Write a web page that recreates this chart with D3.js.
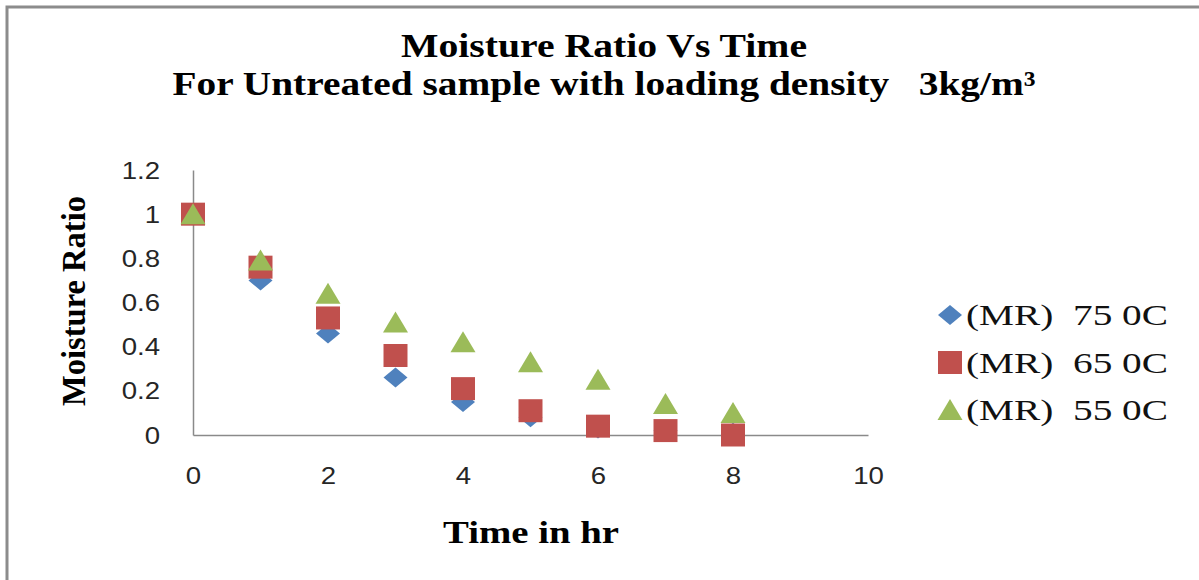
<!DOCTYPE html>
<html><head><meta charset="utf-8">
<script src="https://cdn.jsdelivr.net/npm/d3@7"></script>
<style>body{margin:0;background:#fff;} svg{display:block;}</style>
</head><body>
<svg id="c" width="1199" height="580"></svg>
<script>
const times = [0,1,2,3,4,5,6,7,8];
const mr75 = [1,0.70,0.46,0.26,0.15,0.08,0.03,0.02,0.01];
const mr65 = [1,0.76,0.53,0.36,0.21,0.11,0.04,0.02,0.00];
const mr55 = [1,0.79,0.64,0.51,0.42,0.33,0.25,0.14,0.10];
const seriesNames = ["(MR)  75 0C","(MR)  65 0C","(MR)  55 0C"];
const seriesColors = ["#4F81BD","#C0504D","#9BBB59"];
const xTicks = [0,2,4,6,8,10];
const yTicks = [0,0.2,0.4,0.6,0.8,1,1.2];

const svg = d3.select("#c");
svg.append("rect").attr("x",7).attr("y",7).attr("width",1250).attr("height",640)
  .attr("fill","#fff").attr("stroke","#8c8c8c").attr("stroke-width",3);

const x = d3.scaleLinear().domain([0,10]).range([193,868]);
const y = d3.scaleLinear().domain([0,1.2]).range([435,170]);
const sx = 1.2;

// axes
const xa = svg.append("g").attr("transform","translate(0,435)")
  .call(d3.axisBottom(x).tickValues(xTicks).tickSize(0).tickPadding(34).tickFormat(d3.format("d")));
const ya = svg.append("g").attr("transform","translate(193,0)")
  .call(d3.axisLeft(y).tickValues(yTicks).tickSize(0).tickPadding(34).tickFormat(d=>String(d)));
[xa,ya].forEach(a=>{
  a.select(".domain").attr("stroke","#8a8a8a").attr("stroke-width",1.5);
  a.selectAll("text").attr("font-family","'Liberation Sans', Arial, sans-serif")
   .attr("font-size",23).attr("fill","#262626");
});
xa.selectAll("text").attr("y",null).attr("dy",null)
  .attr("transform",`translate(0,43) scale(${sx},1)`).attr("dominant-baseline","middle");
ya.selectAll("text").attr("x",null).attr("dy","0.35em")
  .attr("transform",`translate(-33,0) scale(${sx},1)`);

// markers
function shape(i, cx, cy){
  const w=12, h=10;
  if(i===0) return `M${cx},${cy-h}L${cx+w},${cy}L${cx},${cy+h}L${cx-w},${cy}Z`;
  if(i===1) return `M${cx-12},${cy-11.5}h24v23h-24Z`;
  return `M${cx},${cy-11}L${cx+12.5},${cy+10}L${cx-12.5},${cy+10}Z`;
}
const data = [mr75, mr65, mr55];
data.forEach((vals,i)=>{
  svg.append("g").selectAll("path").data(vals).join("path")
    .attr("d",(d,j)=>shape(i, x(times[j]), y(d)))
    .attr("fill",seriesColors[i]);
});

// legend
const leg = svg.append("g");
seriesNames.forEach((n,i)=>{
  const cy = 315 + i*47.5;
  leg.append("path").attr("d",shape(i,950,cy)).attr("fill",seriesColors[i]);
  leg.append("text").attr("x",966).attr("y",cy).attr("dy","0.35em")
    .attr("font-family","'Liberation Serif', 'Times New Roman', serif").attr("font-size",29)
    .attr("fill","#111").attr("xml:space","preserve")
    .attr("textLength",202).attr("lengthAdjust","spacingAndGlyphs").text(n);
});

// titles
const serif = "'Liberation Serif', 'Times New Roman', serif";
svg.append("text").attr("x",604).attr("y",57).attr("text-anchor","middle")
  .attr("font-family",serif).attr("font-weight","bold").attr("font-size",34)
  .attr("textLength",406).attr("lengthAdjust","spacingAndGlyphs").text("Moisture Ratio Vs Time");
svg.append("text").attr("x",604).attr("y",95).attr("text-anchor","middle")
  .attr("font-family",serif).attr("font-weight","bold").attr("font-size",34)
  .attr("textLength",863).attr("lengthAdjust","spacingAndGlyphs").attr("xml:space","preserve")
  .text("For Untreated sample with loading density   3kg/m³");
svg.append("text").attr("x",531).attr("y",543).attr("text-anchor","middle")
  .attr("font-family",serif).attr("font-weight","bold").attr("font-size",31)
  .attr("textLength",176).attr("lengthAdjust","spacingAndGlyphs").text("Time in hr");
svg.append("text").attr("transform","translate(85,301) rotate(-90)").attr("text-anchor","middle")
  .attr("font-family",serif).attr("font-weight","bold").attr("font-size",34)
  .attr("textLength",210).attr("lengthAdjust","spacingAndGlyphs").text("Moisture Ratio");
</script>
</body></html>
